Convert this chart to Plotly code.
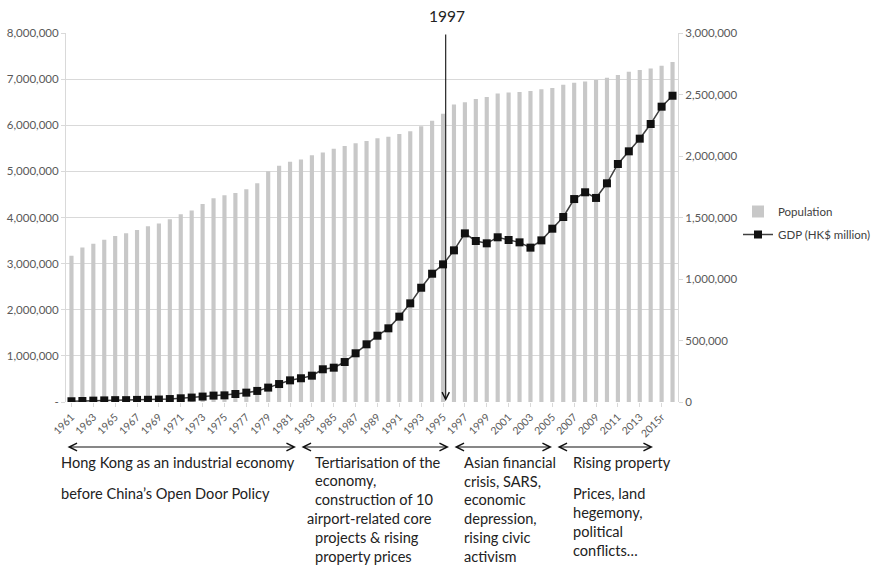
import plotly.graph_objects as go

years = [str(y) for y in range(1961, 2015)] + ["2015r", "2016"]

population = [3.17, 3.35, 3.43, 3.52, 3.60, 3.66, 3.73, 3.81, 3.87, 3.96,
              4.07, 4.15, 4.29, 4.42, 4.48, 4.53, 4.61, 4.74, 5.00, 5.12,
              5.21, 5.26, 5.35, 5.41, 5.49, 5.55, 5.61, 5.66, 5.72, 5.75,
              5.81, 5.87, 5.98, 6.10, 6.25, 6.45, 6.50, 6.57, 6.61, 6.69,
              6.71, 6.72, 6.74, 6.78, 6.81, 6.88, 6.92, 6.95, 6.98, 7.03,
              7.09, 7.16, 7.20, 7.23, 7.29, 7.37]
population = [p * 1e6 for p in population]

gdp = [6, 8, 11, 13, 15, 15, 17, 18, 20, 24,
       30, 36, 44, 52, 54, 65, 76, 90, 117, 146,
       176, 193, 214, 266, 279, 325, 396, 469, 539, 599,
       694, 802, 929, 1043, 1119, 1233, 1371, 1309, 1290, 1339,
       1317, 1298, 1255, 1314, 1409, 1504, 1650, 1705, 1659, 1778,
       1935, 2038, 2141, 2260, 2401, 2490]
gdp = [g * 1000 for g in gdp]

left_ticks = [0, 1e6, 2e6, 3e6, 4e6, 5e6, 6e6, 7e6, 8e6]
left_text = ["-", "1,000,000", "2,000,000", "3,000,000", "4,000,000",
             "5,000,000", "6,000,000", "7,000,000", "8,000,000"]
right_ticks = [0, 5e5, 1e6, 1.5e6, 2e6, 2.5e6, 3e6]
right_text = ["0", "500,000", "1,000,000", "1,500,000", "2,000,000",
              "2,500,000", "3,000,000"]

FONT = "Lato"
GRAY = "#595959"

fig = go.Figure()
fig.add_trace(go.Bar(x=years, y=population, name="Population",
                     marker=dict(color="#c8c8c8", line=dict(width=0)),
                     legendgroup="a"))
fig.add_trace(go.Scatter(x=years, y=gdp, name="GDP (HK$ million)", yaxis="y2",
                         mode="lines+markers",
                         line=dict(color="#404040", width=1.5),
                         marker=dict(symbol="square", size=8, color="#111111"),
                         legendgroup="b"))

fig.update_layout(
    width=880, height=566,
    margin=dict(l=66, r=202, t=33, b=164, autoexpand=False),
    paper_bgcolor="white", plot_bgcolor="white",
    font=dict(family=FONT, color=GRAY, size=11),
    bargap=0.62,
    showlegend=True,
    legend=dict(x=(738 - 66) / 612, y=(402 - 197) / 369, xanchor="left", yanchor="top",
                font=dict(size=11.5, color="#404040"), tracegroupgap=4,
                bgcolor="rgba(0,0,0,0)"),
    xaxis=dict(type="category", tickvals=years[::2], ticktext=years[::2],
               tickangle=-45, tickfont=dict(size=10.5, color=GRAY),
               showgrid=False, showline=False, ticks="outside", ticklen=4,
               tickcolor="#d9d9d9", range=[-0.5, 55.5]),
    yaxis=dict(range=[0, 8e6], tickvals=left_ticks, ticktext=left_text,
               showgrid=True, gridcolor="#d9d9d9", gridwidth=1,
               showline=True, linecolor="#d9d9d9", linewidth=1,
               ticks="outside", ticklen=4, tickcolor="#d9d9d9",
               zeroline=False, tickfont=dict(size=11.5, color=GRAY)),
    yaxis2=dict(range=[0, 3e6], tickvals=right_ticks, ticktext=right_text,
                overlaying="y", side="right", showgrid=False,
                showline=True, linecolor="#d9d9d9", linewidth=1,
                ticks="outside", ticklen=4, tickcolor="#d9d9d9",
                zeroline=False, tickfont=dict(size=11.5, color=GRAY)),
)

def px(x):
    return (x - 66) / 612

def py(y):
    return (402 - y) / 369

anns = []
# vertical 1997 line with arrow
anns.append(dict(xref="paper", yref="paper", x=px(445.7), y=py(401), ax=0, ay=-368,
                 axref="pixel", ayref="pixel", text="", showarrow=True,
                 arrowhead=5, arrowsize=1.3, arrowwidth=1.1, arrowcolor="#111111"))
anns.append(dict(xref="paper", yref="paper", x=px(447), y=py(16), text="1997",
                 xanchor="center", yanchor="middle",
                 showarrow=False, font=dict(size=15.5, color="#222222")))
# period arrows
for x0, x1 in [(66, 296), (300, 449), (453, 552), (556, 653)]:
    anns.append(dict(xref="paper", yref="paper", x=px(x1), y=py(447), ax=-(x1 - x0), ay=0,
                     axref="pixel", ayref="pixel", text="", showarrow=True,
                     arrowhead=5, arrowside="end+start", arrowsize=1.4,
                     arrowwidth=1.1, arrowcolor="#111111"))

texts = [
    (59, 462, "Hong Kong as an industrial economy"),
    (59, 493, "before China’s Open Door Policy"),
    (313, 462, "Tertiarisation of the"),
    (313, 480, "economy,"),
    (313, 499, "construction of 10"),
    (305, 518, "airport-related core"),
    (313, 537, "projects & rising"),
    (313, 556, "property prices"),
    (462, 462, "Asian financial"),
    (462, 481, "crisis, SARS,"),
    (462, 500, "economic"),
    (462, 518, "depression,"),
    (462, 537, "rising civic"),
    (462, 556, "activism"),
    (571, 462, "Rising property"),
    (571, 493, "Prices, land"),
    (571, 512, "hegemony,"),
    (571, 531, "political"),
    (571, 550, "conflicts…"),
]
for x, y, t in texts:
    anns.append(dict(xref="paper", yref="paper", x=px(x), y=py(y), text=t,
                     xanchor="left", yanchor="middle", showarrow=False,
                     font=dict(size=14.6, color="#222222")))

fig.update_layout(annotations=anns)
fig.write_html("out.html")
